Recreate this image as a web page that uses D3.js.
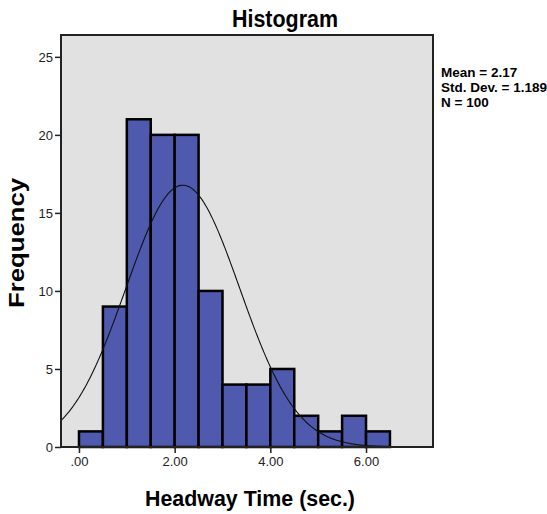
<!DOCTYPE html>
<html>
<head>
<meta charset="utf-8">
<script src="https://cdn.jsdelivr.net/npm/d3@7"></script>
<style>
  body { margin: 0; background: #fff; }
  text { font-family: "Liberation Sans", Arial, sans-serif; }
</style>
</head>
<body>
<div id="chart"></div>
<script>
// Histogram bins (lower edge) and counts
const binStarts = [0, 0.5, 1, 1.5, 2, 2.5, 3, 3.5, 4, 4.5, 5, 5.5, 6];
const binWidth = 0.5;
const counts = [1, 9, 21, 20, 20, 10, 4, 4, 5, 2, 1, 2, 1];
const xTicks = [0, 2, 4, 6];
const xTickLabels = [".00", "2.00", "4.00", "6.00"];
const yTicks = [0, 5, 10, 15, 20, 25];
const stats = { mean: 2.17, sd: 1.189, n: 100 };
const statLines = ["Mean = 2.17", "Std. Dev. = 1.189", "N = 100"];

const margin = { top: 35, right: 114, bottom: 67, left: 61 };
const width = 547 - margin.left - margin.right;
const height = 514 - margin.top - margin.bottom;

const svg = d3.select("#chart")
    .append("svg")
    .attr("width", 547)
    .attr("height", 514)
    .append("g")
    .attr("transform", `translate(${margin.left},${margin.top})`);

const x = d3.scaleLinear()
    .domain([-0.376, 7.4])
    .range([0, width]);

const y = d3.scaleLinear()
    .domain([0, 26.4])
    .range([height, 0]);

// Plot background
svg.append("rect")
    .attr("width", width)
    .attr("height", height)
    .attr("fill", "#e1e1e1");

svg.append("defs").append("clipPath")
    .attr("id", "clip")
    .append("rect")
    .attr("width", width)
    .attr("height", height);

// Bars
svg.selectAll(".bar")
    .data(counts)
    .enter()
    .append("rect")
    .attr("class", "bar")
    .attr("x", (d, i) => x(binStarts[i]))
    .attr("y", d => y(d))
    .attr("width", x(binWidth) - x(0))
    .attr("height", d => y(0) - y(d))
    .attr("fill", "#4f59ad")
    .attr("stroke", "#000")
    .attr("stroke-width", 2.5);

// Normal curve from the stated mean / std. dev.
const curveXs = d3.range(x.domain()[0], x.domain()[1] + 0.01, 0.02);
const pdf = v => stats.n * binWidth * Math.exp(-0.5 * ((v - stats.mean) / stats.sd) ** 2) / (stats.sd * Math.sqrt(2 * Math.PI));

svg.append("path")
    .datum(curveXs)
    .attr("clip-path", "url(#clip)")
    .attr("fill", "none")
    .attr("stroke", "#111")
    .attr("stroke-width", 1.1)
    .attr("d", d3.line().x(d => x(d)).y(d => y(pdf(d))));

// Frame
svg.append("rect")
    .attr("width", width)
    .attr("height", height)
    .attr("fill", "none")
    .attr("stroke", "#222")
    .attr("stroke-width", 2);

// Axes
const yAxis = svg.append("g")
    .call(d3.axisLeft(y).tickValues(yTicks).tickSize(6).tickPadding(2));
yAxis.select(".domain").remove();

const xAxis = svg.append("g")
    .attr("transform", `translate(0,${height})`)
    .call(d3.axisBottom(x).tickValues(xTicks).tickSize(6).tickPadding(4)
        .tickFormat((d, i) => xTickLabels[i]));
xAxis.select(".domain").remove();

svg.selectAll(".tick line").attr("stroke", "#222").attr("stroke-width", 1.5);
svg.selectAll(".tick text")
    .attr("font-size", "13px")
    .attr("fill", "#222")
    .style("font-family", "'Liberation Sans', Arial, sans-serif");

// Title (narrow bold look, like the SPSS output)
svg.append("text")
    .attr("x", 285 - margin.left)
    .attr("y", 27 - margin.top)
    .attr("text-anchor", "middle")
    .attr("font-size", "23px")
    .attr("font-weight", "bold")
    .attr("textLength", 106)
    .attr("lengthAdjust", "spacingAndGlyphs")
    .text("Histogram");

// Axis titles
svg.append("text")
    .attr("x", 250 - margin.left)
    .attr("y", height + 59)
    .attr("text-anchor", "middle")
    .attr("font-size", "22px")
    .attr("font-weight", "bold")
    .attr("textLength", 210)
    .attr("lengthAdjust", "spacingAndGlyphs")
    .text("Headway Time (sec.)");

svg.append("text")
    .attr("transform", `translate(${24 - margin.left},${243 - margin.top}) rotate(-90)`)
    .attr("text-anchor", "middle")
    .attr("font-size", "22px")
    .attr("font-weight", "bold")
    .attr("textLength", 130)
    .attr("lengthAdjust", "spacingAndGlyphs")
    .text("Frequency");

// Stats box
svg.append("g")
    .selectAll("text")
    .data(statLines)
    .enter()
    .append("text")
    .attr("x", width + 8)
    .attr("y", (d, i) => 42 + i * 15)
    .attr("font-size", "13.5px")
    .attr("font-weight", "bold")
    .text(d => d);
</script>
</body>
</html>
